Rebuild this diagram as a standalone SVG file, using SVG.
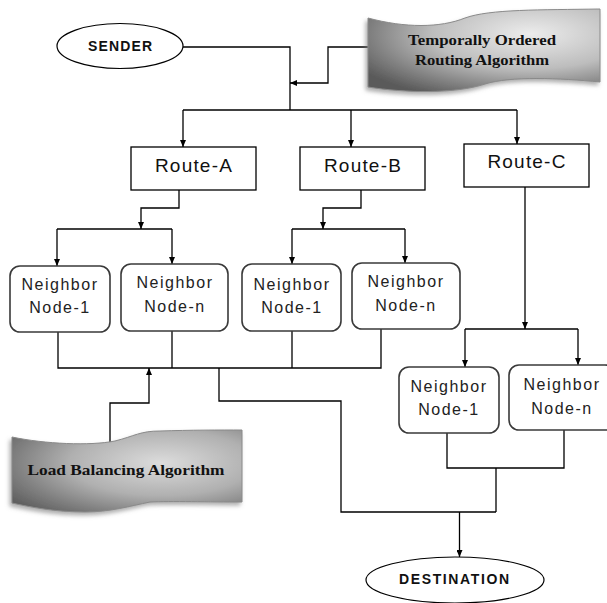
<svg xmlns="http://www.w3.org/2000/svg" width="607" height="603" viewBox="0 0 607 603">
<style>
.ln{fill:none;stroke:#000;stroke-width:1.3}
.box{fill:#fff;stroke:#000;stroke-width:1.3}
.nb{fill:#fff;stroke:#3a3a3a;stroke-width:1.6}
.el{fill:#fff;stroke:#000;stroke-width:1.2}
.rt{font-family:"Liberation Sans",Arial,sans-serif;font-size:19px;letter-spacing:1.2px;fill:#111;text-anchor:middle}
.nt{font-family:"Liberation Sans",Arial,sans-serif;font-size:16px;letter-spacing:1.5px;fill:#222;text-anchor:middle}
.et{font-family:"Liberation Sans",Arial,sans-serif;font-size:14px;font-weight:bold;fill:#111;text-anchor:middle}
.bt{font-family:"Liberation Serif","Times New Roman",serif;font-size:15px;font-weight:bold;fill:#111;text-anchor:middle}
.ban{stroke:#8a8a8a;stroke-width:1;filter:url(#sh)}
</style>
<defs>
<marker id="ar" markerWidth="7" markerHeight="6" refX="7" refY="3" orient="auto" markerUnits="userSpaceOnUse">
<path d="M0,0 L7,3 L0,6 z" fill="#000"/>
</marker>
<radialGradient id="g1" cx="0.7" cy="0.3" r="0.85">
<stop offset="0" stop-color="#ececec"/>
<stop offset="0.5" stop-color="#bdbdbd"/>
<stop offset="1" stop-color="#5a5a5a"/>
</radialGradient>
<radialGradient id="g2" cx="0.65" cy="0.4" r="0.8">
<stop offset="0" stop-color="#dcdcdc"/>
<stop offset="0.5" stop-color="#b0b0b0"/>
<stop offset="1" stop-color="#5e5e5e"/>
</radialGradient>
<filter id="sh" x="-10%" y="-20%" width="120%" height="150%">
<feDropShadow dx="-2" dy="3" stdDeviation="2" flood-color="#777" flood-opacity="0.6"/>
</filter>
</defs>

<g id="connectors">
<path class="ln" d="M183,47 H290 V110"/>
<path class="ln" d="M368,47 H328 V83 H290" marker-end="url(#ar)"/>
<path class="ln" d="M183,110 H517"/>
<path class="ln" d="M183,110 V147" marker-end="url(#ar)"/>
<path class="ln" d="M351,110 V147" marker-end="url(#ar)"/>
<path class="ln" d="M517,110 V144" marker-end="url(#ar)"/>
<path class="ln" d="M179,190 V208 H141 V229" marker-end="url(#ar)"/>
<path class="ln" d="M57,229 H172"/>
<path class="ln" d="M57,229 V266" marker-end="url(#ar)"/>
<path class="ln" d="M172,229 V264" marker-end="url(#ar)"/>
<path class="ln" d="M361,190 V208 H323 V229" marker-end="url(#ar)"/>
<path class="ln" d="M292,229 H405"/>
<path class="ln" d="M292,229 V264" marker-end="url(#ar)"/>
<path class="ln" d="M405,229 V263" marker-end="url(#ar)"/>
<path class="ln" d="M525,187 V329" marker-end="url(#ar)"/>
<path class="ln" d="M465,329 H578"/>
<path class="ln" d="M465,329 V367" marker-end="url(#ar)"/>
<path class="ln" d="M578,329 V365" marker-end="url(#ar)"/>
<path class="ln" d="M58,332 V368 H381 V329"/>
<path class="ln" d="M172,331 V368"/>
<path class="ln" d="M292,331 V368"/>
<path class="ln" d="M110,442 V403 H149 V368" marker-end="url(#ar)"/>
<path class="ln" d="M219,368 V401 H341 V512 H496"/>
<path class="ln" d="M447,433 V468 H564 V430"/>
<path class="ln" d="M496,468 V512"/>
<path class="ln" d="M459.5,512 V557" marker-end="url(#ar)"/>
</g>

<g id="sender">
<ellipse class="el" cx="120" cy="46" rx="63" ry="22.5"/>
<text class="et" x="120" y="51" textLength="64">SENDER</text>
</g>

<g id="tora">
<path class="ban" fill="url(#g1)" d="M368,18 C405,28 440,28 465,18 C490,9 540,10 600,9 L600,82 C560,78 510,76 485,84 C455,94 405,93 368,87 Z"/>
<text class="bt" x="482" y="45" textLength="148" lengthAdjust="spacingAndGlyphs">Temporally Ordered</text>
<text class="bt" x="482" y="65" textLength="134" lengthAdjust="spacingAndGlyphs">Routing Algorithm</text>
</g>

<g id="route-a">
<rect class="box" x="131" y="147" width="125" height="43"/>
<text class="rt" x="194" y="172">Route-A</text>
</g>
<g id="route-b">
<rect class="box" x="300" y="147" width="125" height="43"/>
<text class="rt" x="363" y="172">Route-B</text>
</g>
<g id="route-c">
<rect class="box" x="464" y="144" width="125" height="43"/>
<text class="rt" x="527" y="168">Route-C</text>
</g>

<g id="a-node-1">
<rect class="nb" x="10" y="266" width="100" height="66" rx="10"/>
<text class="nt" x="60" y="290">Neighbor</text>
<text class="nt" x="60" y="313">Node-1</text>
</g>
<g id="a-node-n">
<rect class="nb" x="121" y="264" width="107" height="67" rx="10"/>
<text class="nt" x="175" y="288">Neighbor</text>
<text class="nt" x="175" y="312">Node-n</text>
</g>
<g id="b-node-1">
<rect class="nb" x="242" y="264" width="99" height="67" rx="10"/>
<text class="nt" x="292" y="290">Neighbor</text>
<text class="nt" x="292" y="313">Node-1</text>
</g>
<g id="b-node-n">
<rect class="nb" x="352" y="263" width="108" height="66" rx="10"/>
<text class="nt" x="406" y="287">Neighbor</text>
<text class="nt" x="406" y="311">Node-n</text>
</g>
<g id="c-node-1">
<rect class="nb" x="399" y="367" width="100" height="66" rx="10"/>
<text class="nt" x="449" y="392">Neighbor</text>
<text class="nt" x="449" y="415">Node-1</text>
</g>
<g id="c-node-n">
<rect class="nb" x="509" y="365" width="106" height="65" rx="10"/>
<text class="nt" x="562" y="390">Neighbor</text>
<text class="nt" x="562" y="414">Node-n</text>
</g>

<g id="load-balancing">
<path class="ban" fill="url(#g2)" d="M12,437 C45,444 90,446 115,441 C135,436 140,431 160,431 C190,430 220,430 242,430 L242,502 C210,502 170,501 150,502 C130,506 110,512 85,512 C55,512 30,507 12,503 Z"/>
<text class="bt" x="126" y="475" textLength="197" lengthAdjust="spacingAndGlyphs">Load Balancing Algorithm</text>
</g>

<g id="destination">
<ellipse class="el" cx="455" cy="580" rx="89" ry="23"/>
<text class="et" x="454" y="584" font-size="15" textLength="110">DESTINATION</text>
</g>
</svg>
